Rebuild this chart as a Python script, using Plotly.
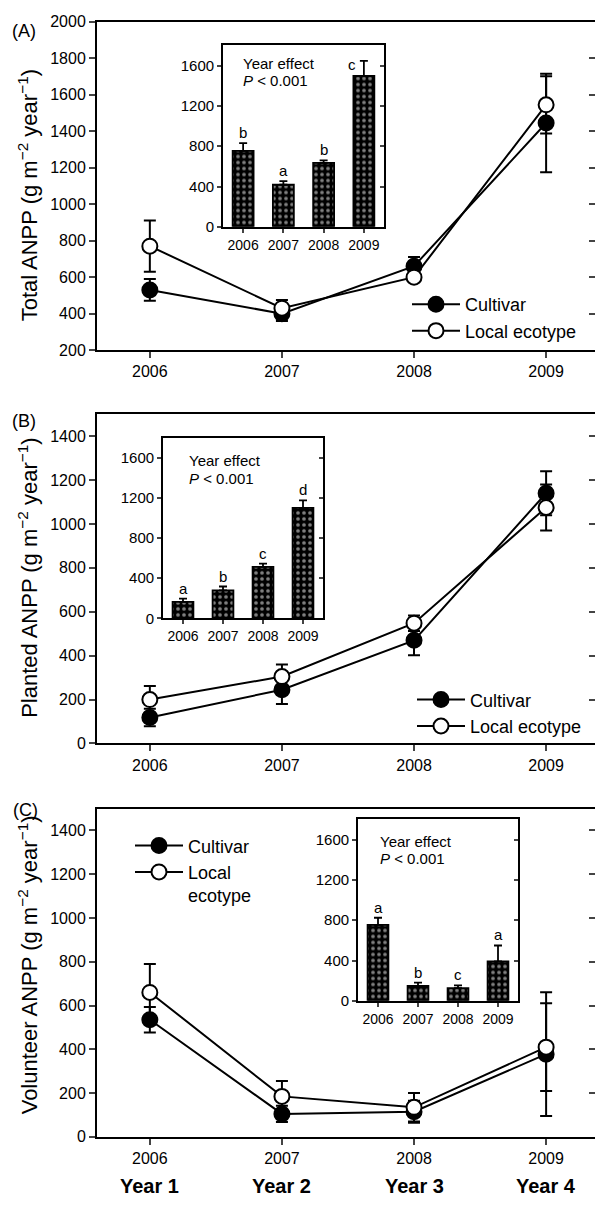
import plotly.graph_objects as go

# ---------------- data ----------------
years = [2006, 2007, 2008, 2009]
year_labels = ["2006", "2007", "2008", "2009"]
study_years = ["Year 1", "Year 2", "Year 3", "Year 4"]

total_cultivar = [530, 400, 660, 1445]
total_cultivar_se = [60, 40, 50, 270]
total_local = [770, 430, 600, 1545]
total_local_se = [140, 45, 20, 157]
total_year_mean = [755, 418, 634, 1497]
total_year_se = [75, 36, 26, 150]
total_letters = ["b", "a", "b", "c"]

planted_cultivar = [118, 245, 470, 1140]
planted_cultivar_se = [40, 65, 68, 100]
planted_local = [200, 305, 548, 1075]
planted_local_se = [62, 55, 35, 105]
planted_year_mean = [164, 278, 513, 1101]
planted_year_se = [32, 39, 33, 75]
planted_letters = ["a", "b", "c", "d"]

volunteer_cultivar = [535, 105, 115, 378]
volunteer_cultivar_se = [58, 37, 50, 283]
volunteer_local = [660, 185, 135, 410]
volunteer_local_se = [130, 70, 65, 200]
volunteer_year_mean = [753, 147, 125, 392]
volunteer_year_se = [71, 33, 29, 157]
volunteer_letters = ["a", "b", "c", "a"]

series_names = ["Cultivar", "Local ecotype"]
panel_tags = ["(A)", "(B)", "(C)"]
y_titles = [
    "Total ANPP (g m<sup>\u22122</sup> year<sup>\u22121</sup>)",
    "Planted ANPP (g m<sup>\u22122</sup> year<sup>\u22121</sup>)",
    "Volunteer ANPP (g m<sup>\u22122</sup> year<sup>\u22121</sup>)",
]
inset_note_1 = "Year effect"
inset_note_2 = "<i>P</i> < 0.001"

# ---------------- layout geometry (pixels) ----------------
W, H = 595, 1207
FONT = "Liberation Sans, Arial, Helvetica, sans-serif"


def py(p):
    return 1 - p / H


def pxx(p):
    return p / W


main_rows = [(14, 347), (412, 746), (812, 1145)]
main_yrange = [[200, 2000], [0, 1500], [0, 1500]]
main_yticks = [list(range(200, 2001, 200)), list(range(0, 1401, 200)), list(range(0, 1401, 200))]
inset_boxes = [((223, 384), (38, 222)), ((163, 323), (436, 619)), ((358, 518), (823, 1007))]
inset_notes_pos = [(241, 56), (187, 459), (378, 845)]
title_centers = [190, 578, 971]
tag_pos = [(10, 23), (10, 419), (11, 813)]
legend_pos = [(407, 282), (412, 683), (130, 831)]

panels = [
    (total_cultivar, total_cultivar_se, total_local, total_local_se,
     total_year_mean, total_year_se, total_letters),
    (planted_cultivar, planted_cultivar_se, planted_local, planted_local_se,
     planted_year_mean, planted_year_se, planted_letters),
    (volunteer_cultivar, volunteer_cultivar_se, volunteer_local, volunteer_local_se,
     volunteer_year_mean, volunteer_year_se, volunteer_letters),
]

fig = go.Figure()
annotations = []
layout = dict(
    width=W, height=H, autosize=False,
    margin=dict(l=0, r=0, t=0, b=0),
    paper_bgcolor="white", plot_bgcolor="rgba(0,0,0,0)",
    font=dict(family=FONT, color="black", size=16),
    showlegend=True, hovermode=False,
)


def sfx(i):
    return "" if i == 1 else str(i)


for p, (cult, cult_se, loc, loc_se, ymean, yse, letters) in enumerate(panels):
    mi = p + 1          # main axes index
    ii = p + 4          # inset axes index
    mr = p + 7          # right overlay for main
    ir = p + 10         # right overlay for inset
    leg = "legend" + sfx(p + 1)
    top, bot = main_rows[p]

    # main x / y
    layout["xaxis" + sfx(mi)] = dict(
        domain=[pxx(97), 1.0], anchor="y" + sfx(mi), range=[2005.6, 2009.37],
        tickvals=years, ticktext=year_labels, ticks="outside", ticklen=6, tickwidth=2,
        showline=True, linewidth=2, linecolor="black", mirror=True,
        showgrid=False, zeroline=False, tickfont=dict(size=16),
    )
    layout["yaxis" + sfx(mi)] = dict(
        domain=[py(bot), py(top)], anchor="x" + sfx(mi), range=main_yrange[p],
        tickvals=main_yticks[p], ticks="outside", ticklen=6, tickwidth=2,
        showline=True, linewidth=2, linecolor="black",
        showgrid=False, zeroline=False, tickfont=dict(size=16),
    )
    layout["yaxis" + sfx(mr)] = dict(
        overlaying="y" + sfx(mi), anchor="x" + sfx(mi), side="right",
        range=main_yrange[p], tickvals=main_yticks[p], ticks="inside", ticklen=6,
        tickwidth=2, showticklabels=False, showline=True, linewidth=2,
        linecolor="black", showgrid=False, zeroline=False,
    )
    # empty trace so the right-hand axis is rendered
    fig.add_trace(go.Scatter(x=[], y=[], xaxis="x" + sfx(mi), yaxis="y" + sfx(mr),
                             showlegend=False, hoverinfo="skip"))

    # main traces
    for name, vals, se, fill in [(series_names[0], cult, cult_se, "black"),
                                 (series_names[1], loc, loc_se, "white")]:
        legend_name = name if not (p == 2 and name == "Local ecotype") else "Local<br>ecotype"
        fig.add_trace(go.Scatter(
            x=years, y=vals, name=legend_name, mode="lines+markers",
            xaxis="x" + sfx(mi), yaxis="y" + sfx(mi), legend=leg,
            line=dict(color="black", width=2),
            marker=dict(symbol="circle", size=15, color=fill,
                        line=dict(color="black", width=2)),
            error_y=dict(type="data", array=se, visible=True, color="black",
                         thickness=2, width=6),
        ))

    # legend
    lx, ly = legend_pos[p]
    layout[leg] = dict(
        x=pxx(lx), y=py(ly), xanchor="left", yanchor="top",
        bgcolor="rgba(0,0,0,0)", font=dict(size=18, family=FONT),
        itemwidth=48, valign="top", tracegroupgap=0,
    )

    # inset axes
    (ix0, ix1), (iy0, iy1) = inset_boxes[p]
    layout["xaxis" + sfx(ii)] = dict(
        domain=[pxx(ix0), pxx(ix1)], anchor="y" + sfx(ii), type="category",
        categoryarray=year_labels, range=[-0.5, 3.5], ticks="outside", ticklen=4,
        tickwidth=1.5, showline=True, linewidth=1.8, linecolor="black", mirror=True,
        showgrid=False, zeroline=False, tickfont=dict(size=14),
    )
    layout["yaxis" + sfx(ii)] = dict(
        domain=[py(iy1), py(iy0)], anchor="x" + sfx(ii), range=[0, 1800],
        tickvals=[0, 400, 800, 1200, 1600], ticks="outside", ticklen=4, tickwidth=1.5,
        showline=True, linewidth=1.8, linecolor="black",
        showgrid=False, zeroline=False, tickfont=dict(size=15),
    )
    layout["yaxis" + sfx(ir)] = dict(
        overlaying="y" + sfx(ii), anchor="x" + sfx(ii), side="right",
        range=[0, 1800], tickvals=[0, 400, 800, 1200, 1600], ticks="inside",
        ticklen=4, tickwidth=1.5, showticklabels=False, showline=True,
        linewidth=1.8, linecolor="black", showgrid=False, zeroline=False,
    )
    fig.add_trace(go.Scatter(x=[], y=[], xaxis="x" + sfx(ii), yaxis="y" + sfx(ir),
                             showlegend=False, hoverinfo="skip"))

    fig.add_trace(go.Bar(
        x=year_labels, y=ymean, width=0.52, showlegend=False,
        xaxis="x" + sfx(ii), yaxis="y" + sfx(ii),
        marker=dict(color="black", line=dict(color="black", width=1.8),
                    pattern=dict(shape=".", fgcolor="white", bgcolor="black",
                                 size=6, solidity=0.3)),
        error_y=dict(type="data", array=yse, arrayminus=[0] * 4, symmetric=False,
                     visible=True, color="black", thickness=1.8, width=4),
    ))

    # significance letters
    for k, lab in enumerate(letters):
        topv = ymean[k] + yse[k]
        if p == 0 and k == 3:
            annotations.append(dict(
                x=k, y=topv, xref="x" + sfx(ii), yref="y" + sfx(ii),
                text=lab, showarrow=False, xshift=-12, yshift=-4, yanchor="middle",
                font=dict(size=15, family=FONT)))
        else:
            annotations.append(dict(
                x=k, y=topv, xref="x" + sfx(ii), yref="y" + sfx(ii),
                text=lab, showarrow=False, yanchor="bottom", yshift=0,
                font=dict(size=15, family=FONT)))

    # inset notes
    nx, ny = inset_notes_pos[p]
    annotations.append(dict(x=pxx(nx), y=py(ny), xref="paper", yref="paper",
                            text=inset_note_1, showarrow=False, xanchor="left",
                            yanchor="middle", font=dict(size=15, family=FONT)))
    annotations.append(dict(x=pxx(nx), y=py(ny + 18), xref="paper", yref="paper",
                            text=inset_note_2, showarrow=False, xanchor="left",
                            yanchor="middle", font=dict(size=15, family=FONT)))

    # y title
    annotations.append(dict(x=pxx(28), y=py(title_centers[p]), xref="paper", yref="paper",
                            text=y_titles[p], textangle=-90, showarrow=False,
                            xanchor="center", yanchor="middle",
                            font=dict(size=22, family=FONT)))
    # panel tag
    tx, ty = tag_pos[p]
    annotations.append(dict(x=pxx(tx), y=py(ty), xref="paper", yref="paper",
                            text=panel_tags[p], showarrow=False, xanchor="left",
                            yanchor="middle", font=dict(size=18, family=FONT)))

# study-year labels under panel C
for k, lab in enumerate(study_years):
    annotations.append(dict(x=years[k], y=py(1195), xref="x3", yref="paper",
                            text="<b>" + lab + "</b>", showarrow=False,
                            xanchor="center", yanchor="middle",
                            font=dict(size=20, family=FONT)))

layout["annotations"] = annotations
fig.update_layout(**layout)
fig.write_html("out.html", config={"displayModeBar": False},
               post_script="document.body.style.margin='0';")
